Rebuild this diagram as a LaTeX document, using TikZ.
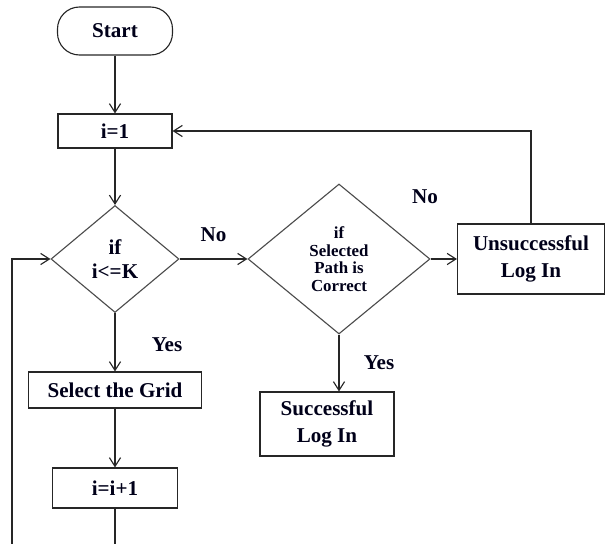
\documentclass[tikz,border=0pt]{standalone}
\usepackage{fontspec}
\setmainfont{Liberation Serif}
\usetikzlibrary{arrows.meta,shapes.geometric}
\tikzset{%
  >={Straight Barb[width=2.8mm,length=2.2mm]},
  % Specifications for style of nodes:
            base/.style = {rectangle, draw=black!85, line width=0.8pt,
                           text centered, inner sep=0pt, text=black!90!blue,
                           font=\bfseries\fontsize{15}{19}\selectfont},
      startbox/.style = {base, rounded corners=0.55cm,
                           minimum width=2.875cm, minimum height=1.2cm},
       stepbox/.style = {base, minimum width=2.85cm, minimum height=0.85cm},
      decision/.style = {base, diamond, draw=black!70, aspect=1.2},
        result/.style = {base, align=center, minimum height=1.65cm},
      branchlbl/.style = {font=\bfseries\fontsize{15}{19}\selectfont, text=black!90!blue},
}

\begin{document}
\begin{tikzpicture}[node distance=2.5cm, line width=0.8pt, draw=black!85]
  % Specification of nodes (position, etc.)
  \useasboundingbox (0,0) rectangle (15.175,-13.6);
  \clip (0,0) rectangle (15.175,-13.6);

  \node (start)     [startbox] at (2.875,-0.775) {Start};
  \node (init)      [stepbox, below of=start] {i=1};
  \node (check)     [decision, below of=init, yshift=-0.7cm, align=center,
                     minimum width=3.2cm, minimum height=2.675cm,
                     font=\bfseries\fontsize{15}{16.5}\selectfont] {if\\i<=K};
  \node (grid)      [stepbox, below of=check, yshift=-0.775cm,
                     minimum width=4.325cm, minimum height=0.9cm] {Select the Grid};
  \node (incr)      [stepbox, below of=grid, yshift=0.05cm,
                     minimum width=3.125cm, minimum height=1cm] {i=i+1};
  \node (path)      [decision, right of=check, xshift=3.1cm, align=center,
                     minimum width=4.55cm, minimum height=3.75cm,
                     font=\bfseries\fontsize{12}{12.5}\selectfont] {if\\Selected\\Path is\\Correct};
  \node (fail)      [result, right of=path, xshift=2.3cm,
                     minimum width=3.675cm, minimum height=1.75cm] {Unsuccessful\\Log In};
  \node (success)   [result, below of=path, xshift=-0.3cm, yshift=-1.625cm,
                     minimum width=3.35cm, minimum height=1.6cm] {Successful\\Log In};

  \coordinate (loopend) at (0.3,-14);

  \draw[->]         (start) -- (init);
  \draw[->]         (init) -- (check);
  \draw[->]         (check) -- (grid) node[branchlbl, pos=0.55, xshift=1.3cm] {Yes};
  \draw[->]         (grid) -- (incr);
  \draw[->]         (check) -- (path) node[branchlbl, midway, yshift=0.6cm] {No};
  \draw[->]         (path) -- (fail);
  \draw[->]         (path.south) -- (path.south |- success.north)
                    node[branchlbl, midway, xshift=1.0cm] {Yes};
  \draw[->]         (fail.north) |- (init.east);
  \draw[->]         (incr.south) -- (incr.south |- loopend) -- (loopend) |- (check.west);
  \node[branchlbl] (nolbl) at (10.625,-4.925) {No};

  \end{tikzpicture}
\end{document}
